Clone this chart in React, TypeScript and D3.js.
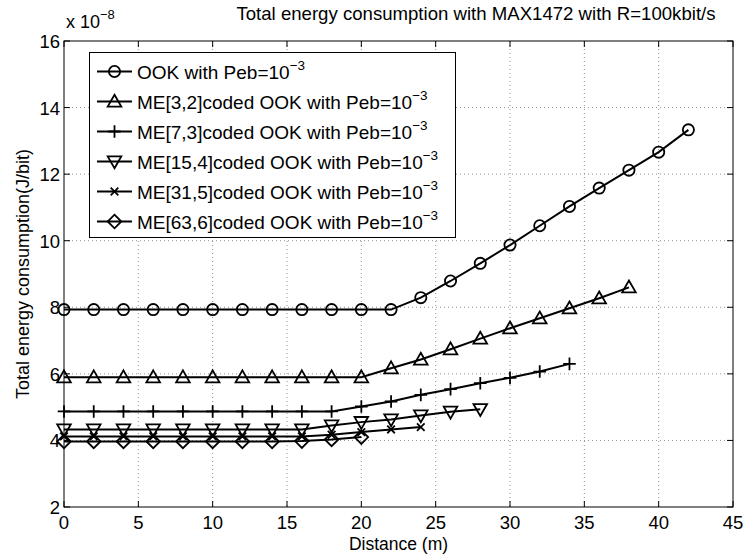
import React from "react";
import * as d3 from "d3";

const distOOK = [0, 2, 4, 6, 8, 10, 12, 14, 16, 18, 20, 22, 24, 26, 28, 30, 32, 34, 36, 38, 40, 42];
const energyOOK = [7.93, 7.93, 7.93, 7.93, 7.93, 7.93, 7.93, 7.93, 7.93, 7.93, 7.93, 7.93, 8.29, 8.79, 9.32, 9.87, 10.45, 11.03, 11.58, 12.12, 12.66, 13.33];

const distME32 = [0, 2, 4, 6, 8, 10, 12, 14, 16, 18, 20, 22, 24, 26, 28, 30, 32, 34, 36, 38];
const energyME32 = [5.9, 5.9, 5.9, 5.9, 5.9, 5.9, 5.9, 5.9, 5.9, 5.9, 5.9, 6.17, 6.43, 6.74, 7.06, 7.37, 7.67, 7.97, 8.27, 8.6];

const distME73 = [0, 2, 4, 6, 8, 10, 12, 14, 16, 18, 20, 22, 24, 26, 28, 30, 32, 34];
const energyME73 = [4.87, 4.87, 4.87, 4.87, 4.87, 4.87, 4.87, 4.87, 4.87, 4.87, 5.02, 5.17, 5.37, 5.54, 5.72, 5.88, 6.07, 6.3];

const distME154 = [0, 2, 4, 6, 8, 10, 12, 14, 16, 18, 20, 22, 24, 26, 28];
const energyME154 = [4.33, 4.33, 4.33, 4.33, 4.33, 4.33, 4.33, 4.33, 4.33, 4.45, 4.55, 4.63, 4.75, 4.86, 4.94];

const distME315 = [0, 2, 4, 6, 8, 10, 12, 14, 16, 18, 20, 22, 24];
const energyME315 = [4.12, 4.12, 4.12, 4.12, 4.12, 4.12, 4.12, 4.12, 4.12, 4.17, 4.25, 4.33, 4.4];

const distME636 = [0, 2, 4, 6, 8, 10, 12, 14, 16, 18, 20];
const energyME636 = [3.97, 3.97, 3.97, 3.97, 3.97, 3.97, 3.97, 3.97, 3.98, 4.03, 4.1];

const seriesNames = [
  "OOK with Peb=10",
  "ME[3,2]coded OOK with Peb=10",
  "ME[7,3]coded OOK with Peb=10",
  "ME[15,4]coded OOK with Peb=10",
  "ME[31,5]coded OOK with Peb=10",
  "ME[63,6]coded OOK with Peb=10",
];
const seriesMarkers = ["circle", "triangle", "plus", "triangleDown", "cross", "diamond"];

const xTicks = [0, 5, 10, 15, 20, 25, 30, 35, 40, 45];
const yTicks = [2, 4, 6, 8, 10, 12, 14, 16];

const titleText = "Total energy consumption with MAX1472 with R=100kbit/s";
const xLabel = "Distance (m)";
const yLabel = "Total energy consumption(J/bit)";

const W = 746;
const H = 557;
const L = 64, R = 733, T = 41, B = 507;
const FONT = "'Liberation Sans', Arial, Helvetica, sans-serif";

function Marker({ type, cx, cy }: { type: string; cx: number; cy: number }) {
  const common = { fill: "none", stroke: "#000", strokeWidth: 1.8 };
  if (type === "circle") return <circle cx={cx} cy={cy} r={5.6} {...common} />;
  if (type === "triangle") {
    const s = 6.8;
    return <path d={`M${cx},${cy - s}L${cx + s},${cy + s * 0.75}L${cx - s},${cy + s * 0.75}Z`} {...common} />;
  }
  if (type === "triangleDown") {
    const s = 6.8;
    return <path d={`M${cx},${cy + s}L${cx + s},${cy - s * 0.75}L${cx - s},${cy - s * 0.75}Z`} {...common} />;
  }
  if (type === "plus") {
    const s = 6.3;
    return <path d={`M${cx - s},${cy}L${cx + s},${cy}M${cx},${cy - s}L${cx},${cy + s}`} {...common} />;
  }
  if (type === "cross") {
    const s = 3.8;
    return <path d={`M${cx - s},${cy - s}L${cx + s},${cy + s}M${cx - s},${cy + s}L${cx + s},${cy - s}`} {...common} />;
  }
  const s = 6.8;
  return <path d={`M${cx},${cy - s}L${cx + s},${cy}L${cx},${cy + s}L${cx - s},${cy}Z`} {...common} />;
}

export default function App() {
  const x = d3.scaleLinear().domain([0, 45]).range([L, R]);
  const y = d3.scaleLinear().domain([2, 16]).range([B, T]);

  const series = [
    { d: distOOK, e: energyOOK },
    { d: distME32, e: energyME32 },
    { d: distME73, e: energyME73 },
    { d: distME154, e: energyME154 },
    { d: distME315, e: energyME315 },
    { d: distME636, e: energyME636 },
  ];

  const line = d3
    .line<[number, number]>()
    .x((p) => x(p[0]))
    .y((p) => y(p[1]));

  const legX = 89.5, legY = 52.5, legW = 366, legH = 185;
  const rowH = 30;

  return (
    <svg
      width={W}
      height={H}
      style={{ position: "absolute", left: 0, top: 0, background: "#fff" }}
      fontFamily={FONT}
    >
      <rect x={0} y={0} width={W} height={H} fill="#fff" />
      {/* grid */}
      {xTicks.slice(1, -1).map((t) => (
        <line key={"gx" + t} x1={x(t)} x2={x(t)} y1={T} y2={B} stroke="#777" strokeWidth={0.8} strokeDasharray="1 3" />
      ))}
      {yTicks.slice(1, -1).map((t) => (
        <line key={"gy" + t} x1={L} x2={R} y1={y(t)} y2={y(t)} stroke="#777" strokeWidth={0.8} strokeDasharray="1 3" />
      ))}
      {/* ticks */}
      {xTicks.map((t) => (
        <g key={"tx" + t}>
          <line x1={x(t)} x2={x(t)} y1={B} y2={B - 6} stroke="#000" />
          <line x1={x(t)} x2={x(t)} y1={T} y2={T + 6} stroke="#000" />
          <text x={x(t)} y={B + 22} textAnchor="middle" fontSize={18.5}>{t}</text>
        </g>
      ))}
      {yTicks.map((t) => (
        <g key={"ty" + t}>
          <line x1={L} x2={L + 6} y1={y(t)} y2={y(t)} stroke="#000" />
          <line x1={R} x2={R - 6} y1={y(t)} y2={y(t)} stroke="#000" />
          <text x={L - 4} y={y(t) + 7} textAnchor="end" fontSize={18.5}>{t}</text>
        </g>
      ))}
      {/* series */}
      {series.map((s, i) => {
        const pts: [number, number][] = s.d.map((d, j) => [d, s.e[j]]);
        return (
          <g key={"s" + i}>
            <path d={line(pts) || ""} fill="none" stroke="#000" strokeWidth={2} />
            {pts.map((p, j) => (
              <Marker key={j} type={seriesMarkers[i]} cx={x(p[0])} cy={y(p[1])} />
            ))}
          </g>
        );
      })}
      {/* frame */}
      <rect x={L} y={T} width={R - L} height={B - T} fill="none" stroke="#000" strokeWidth={1} />
      {/* legend */}
      <rect x={legX} y={legY} width={legW} height={legH} fill="#fff" stroke="#000" strokeWidth={1} />
      {seriesNames.map((name, i) => {
        const cy = 71.5 + i * rowH;
        return (
          <g key={"lg" + i}>
            <line x1={97} x2={132} y1={cy} y2={cy} stroke="#000" strokeWidth={2} />
            <Marker type={seriesMarkers[i]} cx={114.5} cy={cy} />
            <text x={137} y={cy + 7} fontSize={19}>
              {name}
              <tspan dy={-9} fontSize={13.5}>{"\u22123"}</tspan>
            </text>
          </g>
        );
      })}
      {/* exponent */}
      <text x={66} y={28} fontSize={18}>
        x 10<tspan dy={-9} fontSize={13}>{"\u22128"}</tspan>
      </text>
      {/* title */}
      <text x={476} y={20} textAnchor="middle" fontSize={18.6}>{titleText}</text>
      <text x={L + (R - L) / 2} y={550} textAnchor="middle" fontSize={17.5}>{xLabel}</text>
      <text transform={`translate(29,${(T + B) / 2}) rotate(-90)`} textAnchor="middle" fontSize={18}>{yLabel}</text>
    </svg>
  );
}
